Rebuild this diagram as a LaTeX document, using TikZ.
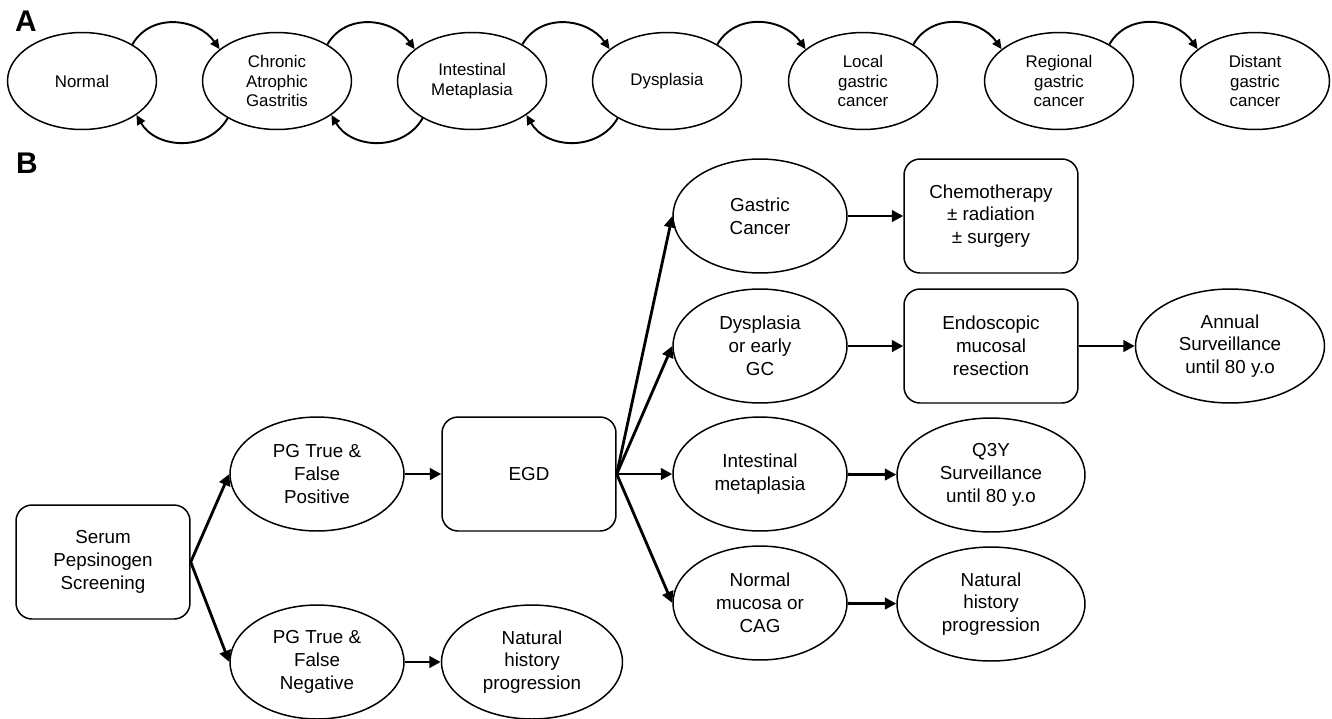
\documentclass[tikz,border=0pt]{standalone}
\usepackage{fontspec}
\setmainfont{Liberation Sans}
\usetikzlibrary{shapes.geometric,arrows.meta}

\begin{document}
\begin{tikzpicture}[x=0.02cm,y=-0.02cm,
	stage/.style={ellipse,draw,line width=0.85pt,minimum width=2.98cm,minimum height=1.94cm,inner sep=0pt,align=center,font=\fontsize{9.6}{11.2}\selectfont},
	oval/.style={ellipse,draw,line width=0.85pt,minimum width=3.48cm,minimum height=2.28cm,inner sep=0pt,align=center,font=\fontsize{10.7}{13}\selectfont},
	boxnode/.style={rectangle,rounded corners=0.32cm,draw,line width=0.85pt,minimum width=3.48cm,minimum height=2.28cm,inner sep=0pt,align=center,font=\fontsize{10.7}{13}\selectfont},
	loop/.style={line width=1.1pt,-{Triangle[length=5.5pt,width=5pt]}},
	flow/.style={line width=1.6pt,-{Triangle[length=6.5pt,width=6.5pt]}},
	panel/.style={font=\fontsize{17}{17}\selectfont\bfseries}]
	\useasboundingbox (0,0) rectangle (1332,718);
	\node[panel] (labA) at (26,21) {A};
	\node[panel] (labB) at (27,163) {B};
	\node[stage] (normal) at (82,81) {Normal};
	\node[stage] (cag) at (277,81) {Chronic\\Atrophic\\Gastritis};
	\node[stage] (meta) at (472,81) {Intestinal\\Metaplasia};
	\node[stage] (dysp) at (667,81) {Dysplasia};
	\node[stage] (local) at (863,81) {Local\\gastric\\cancer};
	\node[stage] (regional) at (1059,81) {Regional\\gastric\\cancer};
	\node[stage] (distant) at (1255,81) {Distant\\gastric\\cancer};
	\foreach \a/\b in {normal/cag,cag/meta,meta/dysp,dysp/local,local/regional,regional/distant}
		\draw[loop] (\a.36) to[out=60,in=125,looseness=1.1] (\b.151);
	\foreach \a/\b in {cag/normal,meta/cag,dysp/meta}
		\draw[loop] (\a.217) to[out=-120,in=-60,looseness=1.1] (\b.-32);
	\node[boxnode] (serum) at (103,562) {Serum\\Pepsinogen\\Screening};
	\node[oval] (pgpos) at (317,474) {PG True \&\\False\\Positive};
	\node[oval] (pgneg) at (317,662) {PG True \&\\False\\Negative};
	\node[boxnode] (egd) at (529,474) {EGD};
	\node[oval,minimum width=3.62cm] (nhpa) at (532,662) {Natural\\history\\progression};
	\node[oval] (gc) at (760,216) {Gastric\\Cancer};
	\node[boxnode] (chemo) at (991,216) {Chemotherapy\\± radiation\\± surgery};
	\node[oval] (dysgc) at (760,346) {Dysplasia\\or early\\GC};
	\node[boxnode] (emr) at (991,346) {Endoscopic\\mucosal\\resection};
	\node[oval,minimum width=3.78cm] (annual) at (1230,346) {Annual\\Surveillance\\until 80 y.o};
	\node[oval] (im) at (760,474) {Intestinal\\metaplasia};
	\node[oval,minimum width=3.76cm] (q3y) at (991,475) {Q3Y\\Surveillance\\until 80 y.o};
	\node[oval] (nmcag) at (760,603) {Normal\\mucosa or\\CAG};
	\node[oval,minimum width=3.76cm] (nhpb) at (991,604) {Natural\\history\\progression};
	\draw[flow] (serum.east) -- (pgpos.west);
	\draw[flow] (serum.east) -- (pgneg.west);
	\draw[flow] (pgpos) -- (egd);
	\draw[flow] (pgneg) -- (nhpa);
	\foreach \t in {gc,dysgc,im,nmcag}
		\draw[flow] (egd.east) -- (\t.west);
	\draw[flow] (gc) -- (chemo);
	\draw[flow] (dysgc) -- (emr);
	\draw[flow] (emr) -- (annual);
	\draw[flow] (im) -- (q3y);
	\draw[flow] (nmcag) -- (nhpb);
\end{tikzpicture}
\end{document}
